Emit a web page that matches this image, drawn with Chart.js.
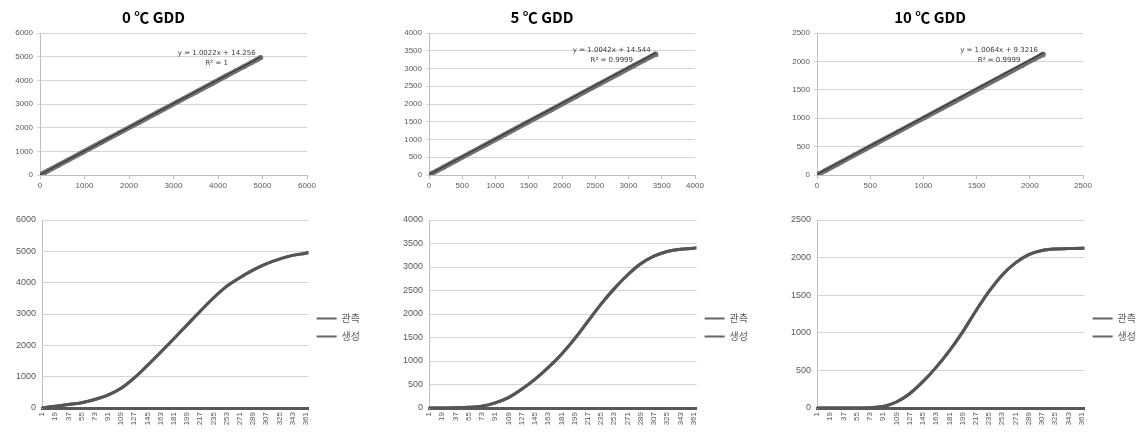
<!DOCTYPE html>
<html><head><meta charset="utf-8">
<script src="https://cdn.jsdelivr.net/npm/chart.js@4.4.1/dist/chart.umd.min.js"></script>
<style>
body{margin:0;background:#fff;width:1143px;height:435px;position:relative;overflow:hidden}
canvas{position:absolute}
</style></head><body>
<canvas id="t0"></canvas><canvas id="t1"></canvas><canvas id="t2"></canvas>
<canvas id="b0"></canvas><canvas id="b1"></canvas><canvas id="b2"></canvas>
<script>
// ---- data ----
const titles = ['0 ℃ GDD', '5 ℃ GDD', '10 ℃ GDD'];
const seriesNames = ['관측', '생성'];
const dayTicks = [1,19,37,55,73,91,109,127,145,163,181,199,217,235,253,271,289,307,325,343,361];
const days = [1,19,37,55,73,91,109,127,145,163,181,199,217,235,253,271,289,307,325,343,361,365];

const gdd0Obs = [0,55,110,170,270,410,630,960,1360,1780,2210,2650,3090,3510,3880,4160,4400,4600,4750,4870,4940,4960];
const gdd0Gen = [0,55,110,170,270,410,630,960,1360,1780,2210,2650,3090,3510,3880,4160,4400,4600,4750,4870,4940,4960];
const gdd5Obs = [0,0,5,15,40,110,220,400,610,860,1140,1470,1840,2210,2540,2830,3070,3230,3330,3380,3400,3410];
const gdd5Gen = [0,0,5,15,40,110,220,400,610,860,1140,1470,1840,2210,2540,2830,3070,3230,3330,3380,3400,3410];
const gdd10Obs = [0,0,0,0,5,20,80,190,350,540,760,1010,1290,1550,1770,1930,2040,2095,2115,2120,2125,2125];
const gdd10Gen = [0,0,0,0,5,20,80,190,350,540,760,1010,1290,1550,1770,1930,2040,2095,2115,2120,2125,2125];

const trendSlopes = [1.0022, 1.0042, 1.0064];
const trendIntercepts = [14.256, 14.544, 9.3216];
const trendEqTexts = ['y = 1.0022x + 14.256', 'y = 1.0042x + 14.544', 'y = 1.0064x + 9.3216'];
const trendR2Texts = ['R² = 1', 'R² = 0.9999', 'R² = 0.9999'];

const axisMax = [6000, 4000, 2500];
const axisStep = [1000, 500, 500];

const obsSets = [gdd0Obs, gdd5Obs, gdd10Obs];
const genSets = [gdd0Gen, gdd5Gen, gdd10Gen];

// ---- layout ----
const topLeft = [0, 389, 777];
const topWidth = [327, 326, 326];
const botLeft = [2, 389, 777];
const botWidth = [368, 369, 369];

const LBL = '#595959';
const GRID = '#d4d4d4';
const LINE = '#555555';
const FONT = "'Liberation Sans', Arial, sans-serif";
const KFONT = "'Noto Sans CJK KR', 'Noto Sans', sans-serif";

const trendLabel = {
  id: 'trendLabel',
  afterDatasetsDraw(chart, args, opts) {
    const meta = chart.getDatasetMeta(0);
    const last = meta.data[meta.data.length - 1];
    const ctx = chart.ctx;
    ctx.save();
    ctx.fillStyle = '#3a3a3a';
    ctx.font = "7px 'DejaVu Sans', sans-serif";
    ctx.textAlign = 'center';
    ctx.textBaseline = 'middle';
    ctx.fillText(opts.eq, last.x - 44, last.y - 4);
    ctx.fillText(opts.r2, last.x - 44, last.y + 6);
    ctx.restore();
  }
};

function fixW(w){ return s => { s.width = w; }; }
function fixH(h){ return s => { s.height = h; }; }
const plain = v => String(v);

for (let i = 0; i < 3; i++) {
  // ---- top scatter ----
  const tc = document.getElementById('t' + i);
  tc.width = topWidth[i]; tc.height = 195;
  tc.style.left = topLeft[i] + 'px'; tc.style.top = '0px';
  const obs = obsSets[i], gen = genSets[i];
  const pts = obs.map((v, k) => ({x: v, y: gen[k]}));
  const xEnd = obs[obs.length - 1];
  new Chart(tc, {
    type: 'scatter',
    data: { datasets: [
      { data: pts, showLine: true, borderColor: '#6e6e6e', backgroundColor: '#6e6e6e',
        borderWidth: 5, pointRadius: 2.5, pointBorderWidth: 0, order: 2 },
      { type: 'line', data: [{x: 0, y: trendIntercepts[i]}, {x: xEnd, y: trendSlopes[i] * xEnd + trendIntercepts[i]}],
        borderColor: '#2a2a2a', borderWidth: 1, pointRadius: 0, order: 1 }
    ]},
    options: {
      responsive: false, animation: false, events: [],
      layout: { padding: { right: 20, left: 0, top: 0, bottom: 0 } },
      plugins: {
        legend: { display: false }, tooltip: { enabled: false },
        title: { display: true, text: titles[i], color: '#000',
          font: { family: KFONT, size: 15, weight: 'bold' }, padding: { top: 8, bottom: 7 } },
        trendLabel: { eq: trendEqTexts[i], r2: trendR2Texts[i] }
      },
      scales: {
        x: { type: 'linear', min: 0, max: axisMax[i],
          afterFit: fixH(20),
          ticks: { stepSize: axisStep[i], color: LBL, font: { family: FONT, size: 8 }, padding: 2, maxRotation: 0, callback: plain },
          grid: { drawOnChartArea: false, color: '#bfbfbf', tickLength: 4 },
          border: { color: '#bfbfbf' } },
        y: { min: 0, max: axisMax[i],
          afterFit: fixW(40),
          ticks: { stepSize: axisStep[i], color: LBL, font: { family: FONT, size: 8 }, padding: 4, callback: plain },
          grid: { color: GRID, tickLength: 3 },
          border: { color: '#bfbfbf' } }
      }
    },
    plugins: [trendLabel]
  });

  // ---- bottom line ----
  const bc = document.getElementById('b' + i);
  bc.width = botWidth[i]; bc.height = 230;
  bc.style.left = botLeft[i] + 'px'; bc.style.top = '205px';
  new Chart(bc, {
    type: 'line',
    data: { datasets: [
      { label: seriesNames[0], data: days.map((d, k) => ({x: d, y: obs[k]})),
        borderColor: LINE, backgroundColor: LINE, borderWidth: 3, pointRadius: 0, cubicInterpolationMode: 'monotone' },
      { label: seriesNames[1], data: days.map((d, k) => ({x: d, y: gen[k]})),
        borderColor: LINE, backgroundColor: LINE, borderWidth: 3, pointRadius: 0, cubicInterpolationMode: 'monotone' }
    ]},
    options: {
      responsive: false, animation: false, events: [],
      layout: { padding: { top: 15, right: 0, left: 0, bottom: 0 } },
      plugins: {
        tooltip: { enabled: false },
        legend: { position: 'right',
          labels: { boxWidth: 20, boxHeight: 2, padding: 8, color: LBL, font: { family: KFONT, size: 10 },
            generateLabels: chart => Chart.defaults.plugins.legend.labels.generateLabels(chart)
              .map(l => Object.assign(l, { lineWidth: 0, fillStyle: '#666' })) } }
      },
      scales: {
        x: { type: 'linear', min: 1, max: 365,
          afterFit: fixH(27),
          afterBuildTicks: s => { s.ticks = dayTicks.map(v => ({value: v})); },
          ticks: { autoSkip: false, minRotation: 90, maxRotation: 90, color: LBL,
            font: { family: FONT, size: 8 }, padding: 2, callback: plain },
          grid: { drawOnChartArea: false, display: true, tickLength: 2, color: '#bfbfbf' },
          border: { color: '#585858', width: 3 } },
        y: { min: 0, max: axisMax[i],
          afterFit: fixW(40),
          ticks: { stepSize: axisStep[i], color: LBL, font: { family: FONT, size: 9 }, padding: 6, callback: plain },
          grid: { color: GRID, tickLength: 0 },
          border: { color: '#bfbfbf' } }
      }
    }
  });
}
</script>
</body></html>
